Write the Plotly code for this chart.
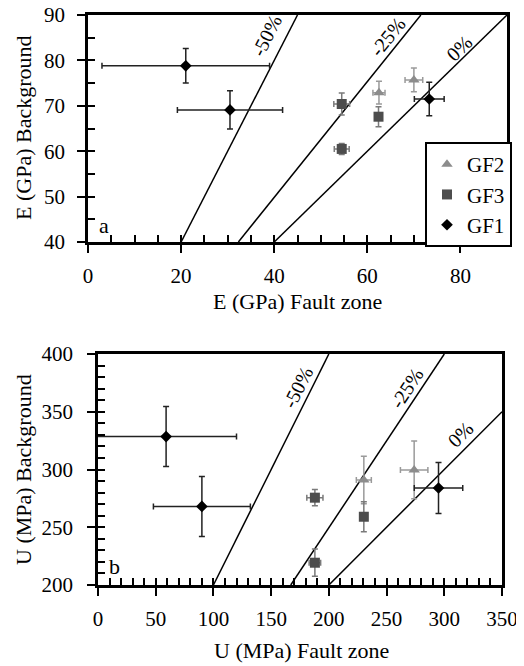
import plotly.graph_objects as go

FONT = "Liberation Serif, Times New Roman, Times, DejaVu Serif, serif"

# ---------------- Panel a: E (GPa) ----------------
E_GF2_x = [62.5, 70.0]
E_GF2_y = [72.9, 75.7]
E_GF2_xerr = [1.3, 1.9]
E_GF2_yerr = [2.5, 2.6]

E_GF3_x = [54.5, 54.5, 62.4]
E_GF3_y = [70.4, 60.5, 67.6]
E_GF3_xerr = [1.7, 1.6, 0.8]
E_GF3_yerr = [2.4, 1.2, 2.2]

E_GF1_x = [21.0, 30.5, 73.3]
E_GF1_y = [78.8, 69.1, 71.5]
E_GF1_xerr = [18.0, 11.3, 3.2]
E_GF1_yerr = [3.8, 4.2, 3.7]

E_line_m50_x = [20, 45]
E_line_m50_y = [40, 90]
E_line_m25_x = [32.3, 71.5]
E_line_m25_y = [40, 90]
E_line_0_x = [40, 90]
E_line_0_y = [40, 90]

# ---------------- Panel b: U (MPa) ----------------
U_GF2_x = [230.3, 273.9]
U_GF2_y = [290.9, 299.6]
U_GF2_xerr = [6.5, 11.9]
U_GF2_yerr = [20.5, 25.0]

U_GF3_x = [187.9, 187.9, 230.3]
U_GF3_y = [275.6, 219.3, 259.1]
U_GF3_xerr = [7.0, 5.0, 3.0]
U_GF3_yerr = [7.0, 11.8, 13.0]

U_GF1_x = [59.0, 90.0, 295.0]
U_GF1_y = [328.5, 268.0, 284.0]
U_GF1_xerr = [61.0, 42.0, 21.0]
U_GF1_yerr = [26.0, 26.0, 22.0]

U_line_m50_x = [100, 200]
U_line_m50_y = [200, 400]
U_line_m25_x = [167, 300]
U_line_m25_y = [200, 400]
U_line_0_x = [200, 350]
U_line_0_y = [200, 350]

C_GF1 = "black"
C_GF3 = "#4d4d4d"
C_GF2 = "#8c8c8c"
E_GF3_ERR = "#7a7a7a"
E_GF2_ERR = "#9a9a9a"

fig = go.Figure()

def add_series(x, y, xe, ye, xa, ya, name, color, ecolor, symbol, size, show, cap):
    fig.add_trace(go.Scatter(
        x=x, y=y, mode="markers", name=name, xaxis=xa, yaxis=ya,
        legendgroup=name, showlegend=show,
        marker=dict(color=color, symbol=symbol, size=size),
        error_x=dict(type="data", array=xe, visible=True, color=ecolor, thickness=1.5, width=cap),
        error_y=dict(type="data", array=ye, visible=True, color=ecolor, thickness=1.5, width=cap),
    ))

def add_line(x, y, xa, ya):
    fig.add_trace(go.Scatter(x=x, y=y, mode="lines", xaxis=xa, yaxis=ya,
                             line=dict(color="black", width=1.5), showlegend=False,
                             hoverinfo="skip"))

add_line(E_line_m50_x, E_line_m50_y, "x", "y")
add_line(E_line_m25_x, E_line_m25_y, "x", "y")
add_line(E_line_0_x, E_line_0_y, "x", "y")
add_line(U_line_m50_x, U_line_m50_y, "x2", "y2")
add_line(U_line_m25_x, U_line_m25_y, "x2", "y2")
add_line(U_line_0_x, U_line_0_y, "x2", "y2")

add_series(E_GF2_x, E_GF2_y, E_GF2_xerr, E_GF2_yerr, "x", "y", "GF2", C_GF2, E_GF2_ERR, "triangle-up", 10, True, 3)
add_series(E_GF3_x, E_GF3_y, E_GF3_xerr, E_GF3_yerr, "x", "y", "GF3", C_GF3, E_GF3_ERR, "square", 10, True, 3)
add_series(E_GF1_x, E_GF1_y, E_GF1_xerr, E_GF1_yerr, "x", "y", "GF1", C_GF1, "#222222", "diamond", 9, True, 3)

add_series(U_GF2_x, U_GF2_y, U_GF2_xerr, U_GF2_yerr, "x2", "y2", "GF2", C_GF2, E_GF2_ERR, "triangle-up", 10, False, 3)
add_series(U_GF3_x, U_GF3_y, U_GF3_xerr, U_GF3_yerr, "x2", "y2", "GF3", C_GF3, E_GF3_ERR, "square", 10, False, 3)
add_series(U_GF1_x, U_GF1_y, U_GF1_xerr, U_GF1_yerr, "x2", "y2", "GF1", C_GF1, "#222222", "diamond", 9, False, 3)

# page body has an 8px margin: figure is 516x658 placed at (8, 8)
OFF = 8
W, H = 524 - OFF, 666 - OFF
def px(x):
    return (x - OFF) / W
def py(y):
    return 1 - (y - OFF) / H

dom_x1 = [px(88), px(507)]
dom_y1 = [py(242), py(15)]
dom_x2 = [px(98), px(502)]
dom_y2 = [py(585), py(354)]

TICK = 21
tickfont = dict(family=FONT, size=TICK, color="black")

def main_axis(domain, rng, dtick, anchor, standoff):
    return dict(domain=domain, range=rng, dtick=dtick, tick0=0, anchor=anchor,
                ticks="outside", ticklen=8, tickwidth=2, tickcolor="black",
                showline=True, linewidth=2.5, linecolor="black", mirror=True,
                showgrid=False, zeroline=False, tickfont=tickfont,
                ticklabelstandoff=standoff, ticklabeloverflow="allow",
                automargin=False, fixedrange=True)

def inner_axis(domain, rng, dtick, anchor, overlay, side):
    return dict(domain=domain, range=rng, dtick=dtick, tick0=0, anchor=anchor,
                overlaying=overlay, side=side,
                ticks="inside", ticklen=7, tickwidth=2, tickcolor="black",
                showticklabels=False, showline=False, showgrid=False, zeroline=False,
                automargin=False, fixedrange=True)

fig.update_layout(
    width=W, height=H,
    margin=dict(l=0, r=0, t=0, b=0),
    paper_bgcolor="white", plot_bgcolor="white",
    font=dict(family=FONT, size=TICK, color="black"),
    xaxis=main_axis(dom_x1, [0, 90], 20, "y", 5),
    yaxis=main_axis(dom_y1, [40, 90], 10, "x", 8),
    xaxis2=main_axis(dom_x2, [0, 350], 50, "y2", 5),
    yaxis2=main_axis(dom_y2, [200, 400], 50, "x2", 10),
    xaxis3=inner_axis(dom_x1, [0, 90], 5, "y", "x", "bottom"),
    yaxis3=inner_axis(dom_y1, [40, 90], 5, "x", "y", "left"),
    xaxis4=inner_axis(dom_x2, [0, 350], 10, "y2", "x2", "bottom"),
    yaxis4=inner_axis(dom_y2, [200, 400], 10, "x2", "y2", "left"),
    showlegend=True,
    legend=dict(x=px(425), y=py(142), xanchor="left", yanchor="top",
                bgcolor="white", bordercolor="black", borderwidth=2,
                font=dict(family=FONT, size=21, color="black"),
                traceorder="grouped", tracegroupgap=0, itemwidth=30),
)

for xa, ya, xr, yr in [("x3", "y", [0], [40]), ("x", "y3", [0], [40]),
                       ("x4", "y2", [0], [200]), ("x2", "y4", [0], [200])]:
    fig.add_trace(go.Scatter(x=xr, y=yr, xaxis=xa, yaxis=ya, mode="markers",
                             marker=dict(opacity=0), showlegend=False, hoverinfo="skip"))

ann = []
def txt(text, x, y, xref, yref, size=22, angle=0, xanchor="center", yanchor="middle"):
    ann.append(dict(text=text, x=x, y=y, xref=xref, yref=yref, showarrow=False,
                    textangle=angle, xanchor=xanchor, yanchor=yanchor,
                    font=dict(family=FONT, size=size, color="black")))

PCT = 20
txt("-50%", 38.3, 85.4, "x", "y", PCT, -63)
txt("-25%", 64.3, 85.2, "x", "y", PCT, -51)
txt("0%", 79.8, 82.7, "x", "y", PCT, -44)
txt("-50%", 173.2, 371.4, "x2", "y2", PCT, -63)
txt("-25%", 267.5, 370.6, "x2", "y2", PCT, -57)
txt("0%", 314.3, 330.7, "x2", "y2", PCT, -45)

txt("a", 3.4, 43.6, "x", "y", 22)
txt("b", 14.7, 215.6, "x2", "y2", 22)

TITLE = 22
txt("E (GPa) Fault zone", px(297), py(301), "paper", "paper", TITLE)
txt("U (MPa) Fault zone", px(301), py(650), "paper", "paper", TITLE)
txt("E (GPa) Background", px(23), py(128), "paper", "paper", TITLE, -90)
txt("U (MPa) Background", px(23), py(470), "paper", "paper", TITLE, -90)

fig.update_layout(annotations=ann)

fig.write_html("out.html")
